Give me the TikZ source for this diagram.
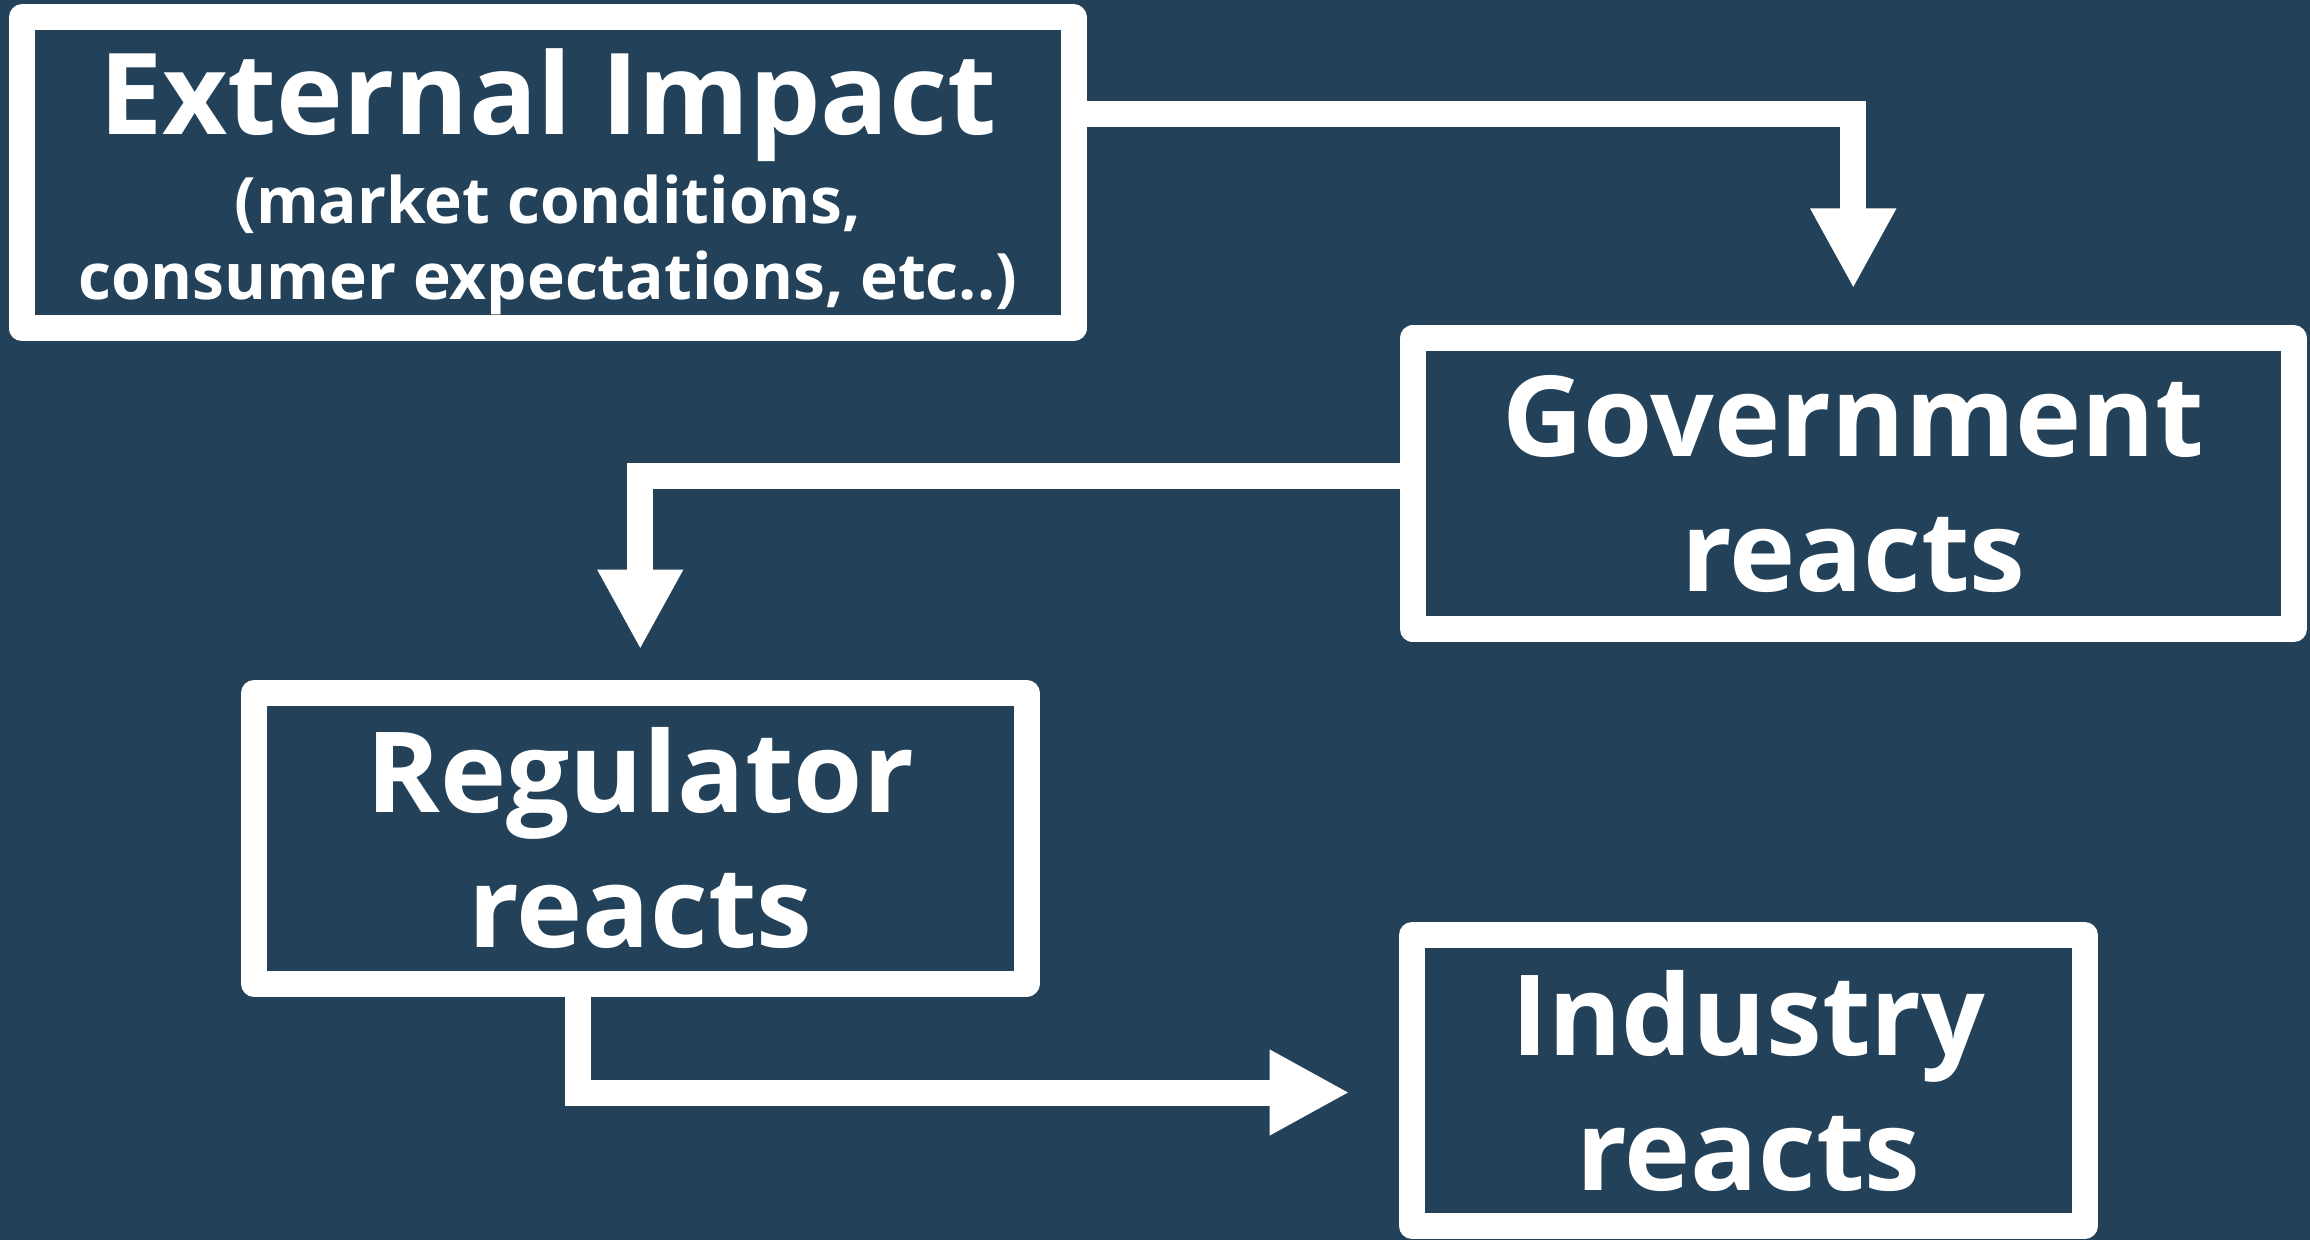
\documentclass[tikz,border=0pt]{standalone}
\usepackage{fontspec}
\setmainfont{Open Sans}
\usetikzlibrary{arrows.meta}
\definecolor{bg}{RGB}{35,66,89}
\begin{document}
\begin{tikzpicture}[x=0.5pt,y=-0.5pt,
  box/.style={draw=white, line width=13pt, line join=round, inner sep=0pt,
    text=white, align=center, font=\bfseries\fontsize{56pt}{67.5pt}\selectfont},
  conn/.style={draw=white, line width=13pt, line join=miter,
    -{Triangle[width=40pt,length=40pt]}}
]
\fill[bg] (0,0) rectangle (2310,1240);
\useasboundingbox (0,0) rectangle (2310,1240);

\node[box, minimum width=525.75pt, minimum height=155.5pt,
  font=\bfseries\fontsize{56.5pt}{44.5pt}\selectfont] (ext) at (547.75,173)
  {\rule{0pt}{52pt}External Impact\\{\fontsize{32pt}{38pt}\selectfont(market conditions,}\\[-6.5pt]{\fontsize{32pt}{38pt}\selectfont consumer expectations, etc..)}};
\node[box, minimum width=440.75pt, minimum height=145.25pt] (gov) at (1853.25,483.75) {Government\\reacts};
\node[box, minimum width=386.25pt, minimum height=145.25pt] (reg) at (640.25,838.25) {Regulator\\reacts};
\node[box, minimum width=336.25pt, minimum height=145.5pt] (ind) at (1748.25,1080.5) {Industry\\reacts};

\draw[conn, shorten >=18.5pt] ([yshift=29.5pt]ext.east) -| (gov.north);
\draw[conn, shorten >=15.25pt] ([yshift=3.9pt]gov.west) -| (reg.north);
\draw[conn, shorten >=24.75pt] ([xshift=-30.9pt]reg.south) |- ([yshift=-6pt]ind.west);
\end{tikzpicture}
\end{document}
